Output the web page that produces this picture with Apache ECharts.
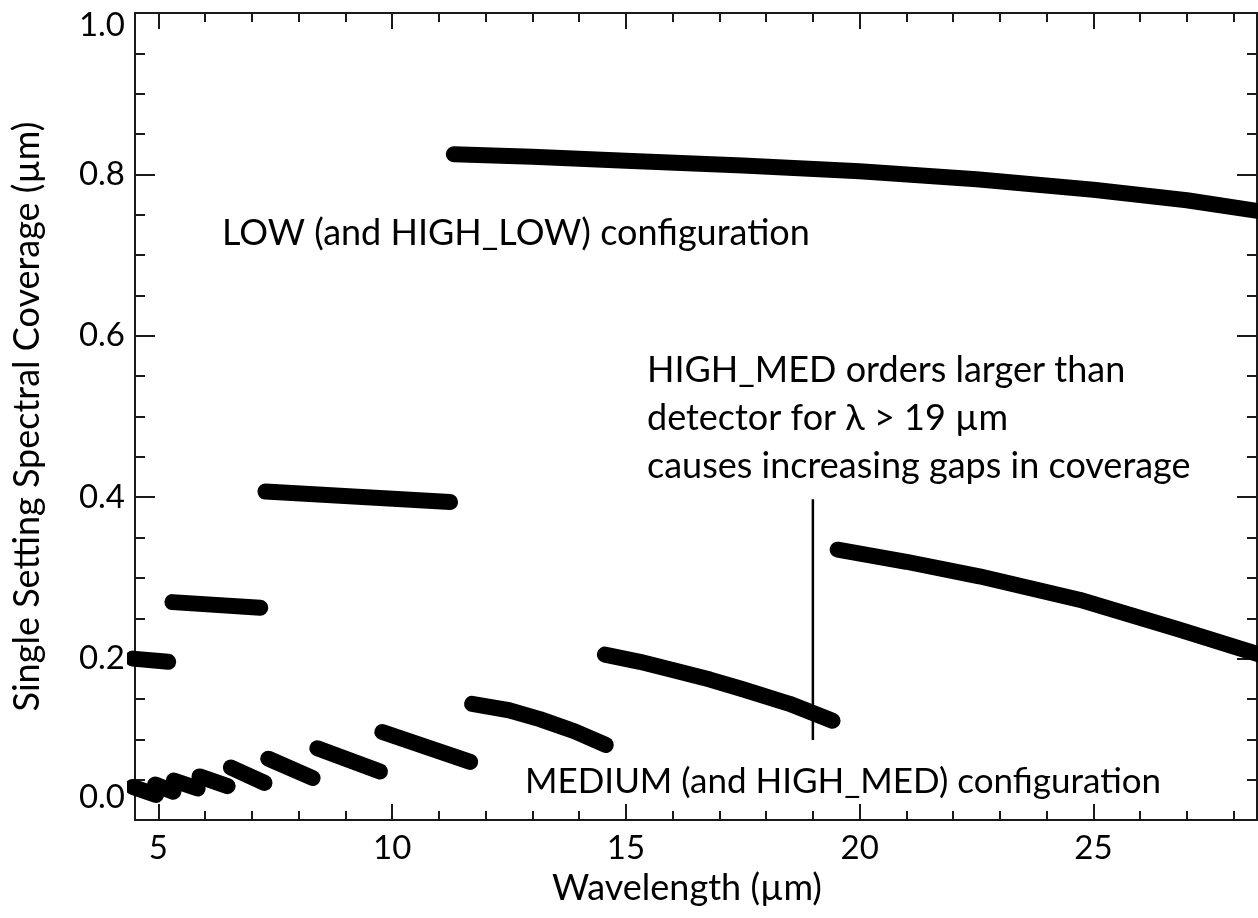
<!DOCTYPE html>
<html>
<head>
<meta charset="utf-8">
<script src="https://cdn.jsdelivr.net/npm/echarts@6/dist/echarts.min.js"></script>
<style>
  html, body { margin: 0; padding: 0; background: #ffffff; }
  #chart { width: 1258px; height: 918px; }
</style>
</head>
<body>
<div id="chart"></div>
<script>
// ---- Data ----
// LOW (and HIGH_LOW) configuration segments: [wavelength µm, coverage µm]
var low1 = [[4.45, 0.200], [5.21, 0.196]];
var low2 = [[5.30, 0.270], [7.18, 0.263]];
var low3 = [[7.29, 0.407], [11.24, 0.394]];
var low4 = [[11.32, 0.825], [13.0, 0.822], [15.0, 0.817], [17.5, 0.811], [20.0, 0.804], [22.5, 0.794], [25.0, 0.781], [27.0, 0.768], [28.6, 0.754]];
var low5 = [[19.53, 0.335], [21.0, 0.320], [22.56, 0.302], [24.70, 0.273], [26.84, 0.236], [28.6, 0.204]];

// MEDIUM (and HIGH_MED) configuration segments
var med1 = [[4.45, 0.041], [4.95, 0.031]];
var med2 = [[4.93, 0.044], [5.32, 0.035]];
var med3 = [[5.33, 0.049], [5.84, 0.039]];
var med4 = [[5.88, 0.054], [6.48, 0.042]];
var med5 = [[6.55, 0.065], [7.27, 0.046]];
var med6 = [[7.35, 0.076], [8.30, 0.052]];
var med7 = [[8.40, 0.089], [9.74, 0.060]];
var med8 = [[9.79, 0.109], [11.67, 0.072]];
var med9 = [[11.71, 0.144], [12.5, 0.136], [13.16, 0.125], [13.9, 0.110], [14.57, 0.093]];
var med10 = [[14.55, 0.205], [15.3, 0.196], [16.0, 0.186], [16.8, 0.174], [17.5, 0.162], [18.5, 0.144], [19.42, 0.123]];

// Marker line at 19 µm
var markerLine = [[19.0, 0.099], [19.0, 0.3975]];

// Axis ticks
var xMajorTicks = [5, 10, 15, 20, 25];
var xMinorTicks = [5, 6, 7, 8, 9, 10, 11, 12, 13, 14, 15, 16, 17, 18, 19, 20, 21, 22, 23, 24, 25, 26, 27, 28];
var xRange = [4.5, 28.5];
var yRange = [0, 1.0];

// Texts
var xTitle = 'Wavelength (µm)';
var yTitle = 'Single Setting Spectral Coverage (µm)';
var lowText = 'LOW (and HIGH_LOW) configuration';
var medText = 'MEDIUM (and HIGH_MED) configuration';
var noteText = ['HIGH_MED orders larger than', 'detector for λ > 19 µm', 'causes increasing gaps in coverage'];

// ---- Chart ----
var FONT = 'Lato, "Noto Sans", sans-serif';
var AX = '#1a1a1a';
var chart = echarts.init(document.getElementById('chart'), null, { renderer: 'canvas' });

function seg(data, width) {
  return {
    type: 'line', data: data, xAxisIndex: 0, yAxisIndex: 0,
    symbol: 'none', smooth: false,
    lineStyle: { color: '#000', width: width || 16, cap: 'round', join: 'round' },
    silent: true, animation: false, z: 3
  };
}

var segs = [low1, low2, low3, low4, low5, med1, med2, med3, med4, med5, med6, med7, med8, med9, med10];
var series = segs.map(function (d) { return seg(d); });
series.push({
  type: 'line', data: markerLine, xAxisIndex: 0, yAxisIndex: 0, symbol: 'none',
  lineStyle: { color: '#000', width: 2.5, cap: 'butt' }, silent: true, animation: false, z: 4
});

function xAx(pos, ticks, len, withLabel, withName) {
  return {
    type: 'value', position: pos, min: xRange[0], max: xRange[1], gridIndex: 0,
    axisLine: { show: true, onZero: false, lineStyle: { color: AX, width: 2 } },
    axisTick: { show: true, inside: true, length: len, customValues: ticks, lineStyle: { color: AX, width: 2 } },
    axisLabel: withLabel ? { show: true, customValues: xMajorTicks, margin: 12, fontSize: 33, fontFamily: FONT, color: '#000' } : { show: false },
    splitLine: { show: false },
    name: withName ? xTitle : '', nameLocation: 'middle', nameGap: 49,
    nameTextStyle: { fontSize: 36, fontFamily: FONT, color: '#000', padding: [0, 18, 0, 0] }
  };
}

function yAx(pos, withLabel) {
  return {
    type: 'value', position: pos, min: yRange[0], max: yRange[1], interval: 0.2,
    axisLine: { show: true, onZero: false, lineStyle: { color: AX, width: 2 } },
    axisTick: { show: true, inside: true, length: 20, lineStyle: { color: AX, width: 2 } },
    minorTick: { show: true, splitNumber: 4, length: 10, lineStyle: { color: AX, width: 2 } },
    axisLabel: withLabel ? {
      show: true, margin: 10, fontSize: 33, fontFamily: FONT, color: '#000',
      formatter: function (v) {
        if (Math.abs(v) < 1e-9) return '{lo|0.0}';
        if (Math.abs(v - 1) < 1e-9) return '{hi|1.0}';
        return v.toFixed(1);
      },
      rich: {
        lo: { fontSize: 33, fontFamily: FONT, color: '#000', padding: [0, 0, 46, 0] },
        hi: { fontSize: 33, fontFamily: FONT, color: '#000', padding: [24, 0, 0, 0] }
      }
    } : { show: false },
    splitLine: { show: false }, minorSplitLine: { show: false },
    name: withLabel ? yTitle : '', nameLocation: 'middle', nameGap: 90, nameRotate: 90,
    nameTextStyle: { fontSize: 36, fontFamily: FONT, color: '#000' }
  };
}

var option = {
  backgroundColor: '#ffffff',
  animation: false,
  grid: { left: 135, top: 13, right: 1, bottom: 98, containLabel: false },
  xAxis: [
    xAx('bottom', xMajorTicks, 16, true, true),
    xAx('bottom', xMinorTicks, 9, false, false),
    xAx('top', xMajorTicks, 16, false, false),
    xAx('top', xMinorTicks, 9, false, false)
  ],
  yAxis: [yAx('left', true), yAx('right', false)],
  series: series,
  graphic: [
    { type: 'text', x: 222, y: 233, silent: true,
      style: { text: lowText, font: '36px ' + FONT, fill: '#000', verticalAlign: 'middle', align: 'left' } },
    { type: 'text', x: 647, y: 418, silent: true,
      style: { text: noteText.join('\n'), font: '36px ' + FONT, lineHeight: 48, fill: '#000', verticalAlign: 'middle', align: 'left' } },
    { type: 'text', x: 525, y: 782, silent: true,
      style: { text: medText, font: '35px ' + FONT, fill: '#000', verticalAlign: 'middle', align: 'left' } }
  ]
};
chart.setOption(option);
</script>
</body>
</html>
